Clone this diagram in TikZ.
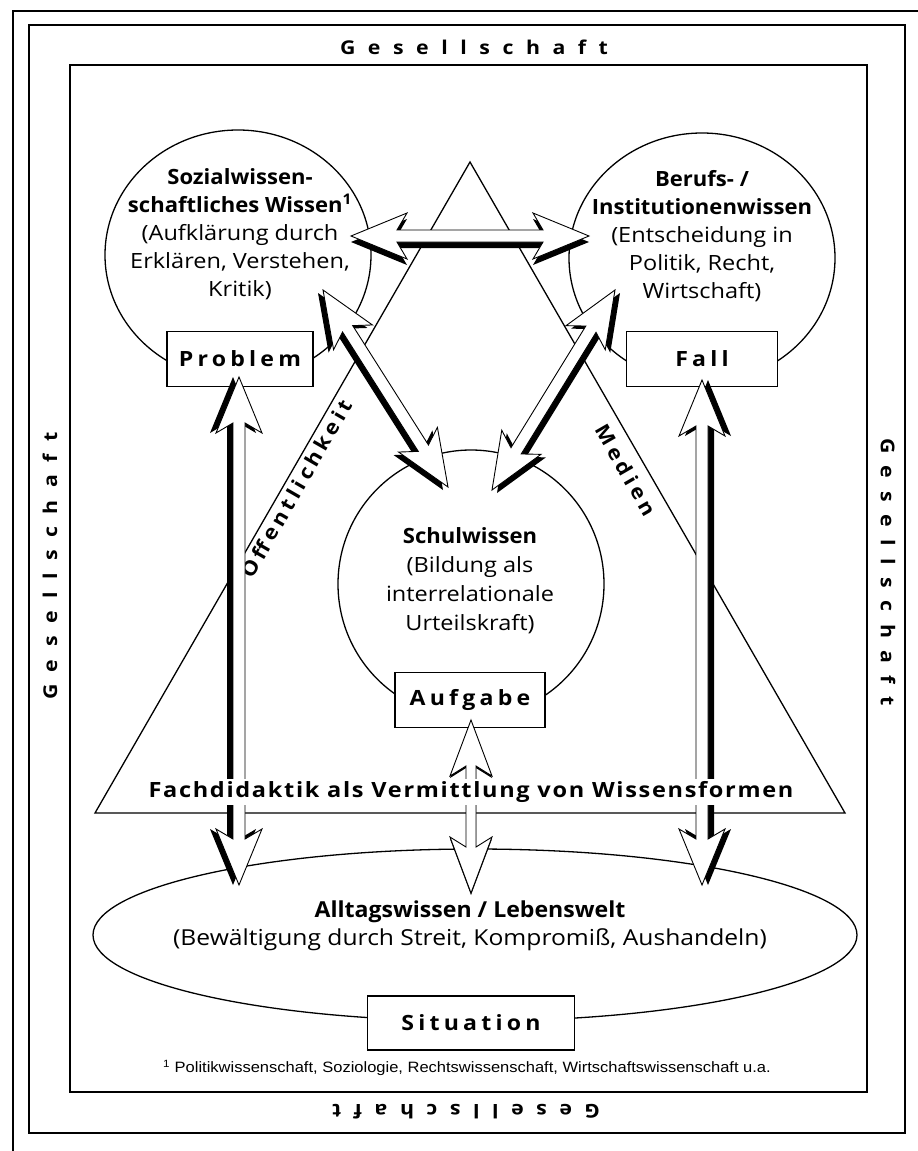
\documentclass[tikz,border=0pt]{standalone}
\usepackage{fontspec}
\setmainfont{Open Sans}[FakeStretch=1.12,BoldFeatures={FakeStretch=1.05}]
\newfontfamily\labelfont{Open Sans}[FakeStretch=1.1,LetterSpace=20]
\newfontfamily\societyfont{Open Sans}[FakeStretch=1.12,LetterSpace=66]
\newfontfamily\wordfont{Open Sans}[FakeStretch=1.12,LetterSpace=8]
\newfontfamily\notefont{Liberation Sans}[FakeStretch=1.1]
\usetikzlibrary{calc,shapes.geometric}

% hollow double arrow with swept-back barbs between two named points
% #1,#2 tips, #3 shaft half width, #4 head half width, #5 path options
\newcommand\arrowbody[5]{%
  \path[#5] (#1)
    -- ($($(#1)!56pt!(#2)$)!#4!90:(#2)$)
    -- ($($(#1)!46pt!(#2)$)!#3!90:(#2)$)
    -- ($($(#2)!46pt!(#1)$)!#3!-90:(#1)$)
    -- ($($(#2)!56pt!(#1)$)!#4!-90:(#1)$)
    -- (#2)
    -- ($($(#2)!56pt!(#1)$)!#4!90:(#1)$)
    -- ($($(#2)!46pt!(#1)$)!#3!90:(#1)$)
    -- ($($(#1)!46pt!(#2)$)!#3!-90:(#2)$)
    -- ($($(#1)!56pt!(#2)$)!#4!-90:(#2)$)
    -- cycle;}
% shaded arrow: black copy shifted by #5, white arrow on top
\newcommand\shadedarrow[5]{%
  \coordinate (sh-a) at ($(#1)+#5$);
  \coordinate (sh-b) at ($(#2)+#5$);
  \arrowbody{sh-a}{sh-b}{#3}{#4}{fill=black}
  \arrowbody{#1}{#2}{#3}{#4}{fill=white,draw=black,line width=0.9pt}}

\tikzset{
  frame/.style={line width=1.7pt},
  knowledge/.style={ellipse,draw,line width=1.3pt,minimum width=266pt,minimum height=250pt,inner sep=0pt},
  tagbox/.style={draw,fill=white,line width=1.3pt,minimum width=148pt,minimum height=55pt,
    inner sep=0pt,font=\labelfont\bfseries\fontsize{21}{24}\selectfont},
  society/.style={inner sep=0pt,font=\societyfont\bfseries\fontsize{19}{22}\selectfont},
  bodytext/.style={align=center,inner sep=0pt,font=\fontsize{21}{28}\selectfont},
  sidetext/.style={inner sep=0pt,font=\labelfont\bfseries\fontsize{20}{22}\selectfont},
}

\begin{document}
\begin{tikzpicture}[x=1pt,y=-1pt]
\useasboundingbox (0,0) rectangle (918,1151);
\fill[white] (0,0) rectangle (918,1151);

% frames
\draw[frame] (13,1151) -- (13,11) -- (918,11);
\draw[frame] (29,25) rectangle (905,1133);
\draw[frame] (70,65) rectangle (867,1092);

% society labels on all four sides
\node[society] (gtop) at (474,47) {Gesellschaft};
\node[society,rotate=90] (gleft) at (50,566) {Gesellschaft};
\node[society,rotate=-90] (gright) at (888,572) {Gesellschaft};
\node[society,rotate=180] (gbottom) at (466,1112) {Gesellschaft};

% triangle of public sphere / media
\coordinate (tapex) at (470,162);
\coordinate (tleft) at (95,813);
\coordinate (tright) at (845,813);
\draw[line width=1.3pt,line join=miter] (tapex) -- (tleft) -- (tright) -- cycle;
\node[sidetext,rotate=60] (oeff) at (295,488) {Öffentlichkeit};
\node[sidetext,rotate=-60] (medien) at (626,470) {Medien};

% three knowledge circles
\node[knowledge] (sozial) at (238,255) {};
\node[knowledge] (beruf) at (702,258) {};
\node[knowledge,minimum height=268pt] (schule) at (471,584) {};

\node[bodytext] (sozialtxt) at (240,234)
  {\textbf{Sozialwissen-}\\\textbf{schaftliches Wissen\textsuperscript{1}}\\(Aufklärung durch\\Erklären, Verstehen,\\Kritik)};
\node[bodytext] (berufstxt) at (702,236)
  {\textbf{Berufs- /}\\\textbf{Institutionenwissen}\\(Entscheidung in\\Politik, Recht,\\Wirtschaft)};
\node[bodytext,font=\fontsize{21}{29}\selectfont] (schultxt) at (470,581)
  {\textbf{Schulwissen}\\(Bildung als\\interrelationale\\Urteilskraft)};

\node[tagbox,minimum width=146pt] (problem) at (240,359) {Problem};
\node[tagbox,minimum width=151pt] (fall) at (702,359) {Fall};
\node[tagbox,minimum width=150pt] (aufgabe) at (470,700) {Aufgabe};

% everyday knowledge
\node[ellipse,draw,line width=1.3pt,minimum width=764pt,minimum height=172pt,inner sep=0pt]
  (alltag) at (475,935) {};
\node[bodytext,font=\fontsize{22}{28}\selectfont] (alltagtxt) at (470,926)
  {\textbf{Alltagswissen / Lebenswelt}\\(Bewältigung durch Streit, Kompromiß, Aushandeln)};
\node[tagbox,minimum width=207pt,minimum height=54pt] (situation) at (471,1023) {Situation};

% connecting arrows
\coordinate (h1) at (351,236);  \coordinate (h2) at (589,236);
\coordinate (d1) at (323,290);  \coordinate (d2) at (448,487);
\coordinate (e1) at (615,290);  \coordinate (e2) at (492,490);
\coordinate (v1) at (239,377);  \coordinate (v2) at (239,885);
\coordinate (w1) at (702,380);  \coordinate (w2) at (702,885);
\coordinate (m1) at (471,720);  \coordinate (m2) at (471,893);

\shadedarrow{h1}{h2}{6pt}{23pt}{(0,6)}
\shadedarrow{d1}{d2}{6pt}{23pt}{(-5,3)}
\shadedarrow{e1}{e2}{6pt}{23pt}{(5,3)}
\shadedarrow{v1}{v2}{6pt}{23pt}{(-6,0)}
\shadedarrow{w1}{w2}{6pt}{23pt}{(6,0)}
\shadedarrow{m1}{m2}{5pt}{21pt}{(0,2)}

\node[fill=white,inner sep=2pt,font=\wordfont\bfseries\fontsize{21}{24}\selectfont] (fach) at (471,792)
  {Fachdidaktik als Vermittlung von Wissensformen};

% footnote
\node[inner sep=0pt,font=\notefont\fontsize{15}{17}\selectfont] (note) at (467,1068)
  {\textsuperscript{1} Politikwissenschaft, Soziologie, Rechtswissenschaft, Wirtschaftswissenschaft u.a.};
\end{tikzpicture}
\end{document}
